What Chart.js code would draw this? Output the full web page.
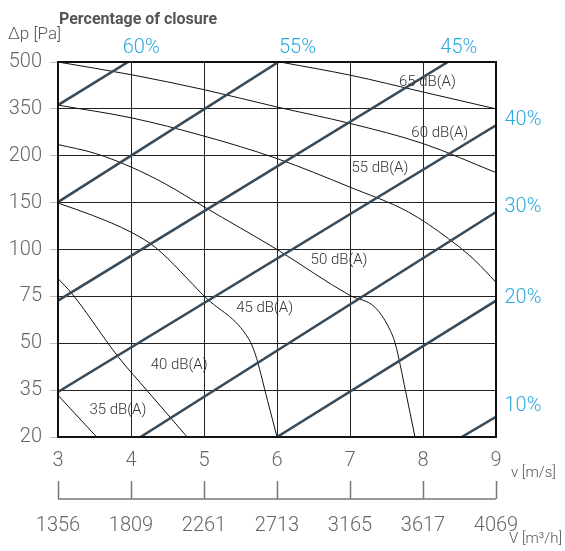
<!DOCTYPE html>
<html lang="en">
<head>
<meta charset="UTF-8" />
<title>Damper sound level chart</title>
<script src="https://cdn.jsdelivr.net/npm/chart.js"></script>
<style>
  body { margin: 0; background: #fff; }
  #wrap { width: 565px; height: 551px; }
</style>
</head>
<body>
<div id="wrap"><canvas id="chart" width="565" height="551"></canvas></div>
<script>
// axis ticks
const speedTicks = [3, 4, 5, 6, 7, 8, 9];
const volumeTicks = ['1356', '1809', '2261', '2713', '3165', '3617', '4069'];
const pressureTicks = ['20', '35', '50', '75', '100', '150', '200', '350', '500'];

// closure lines: [v m/s, position on the Δp axis (0 = 20 Pa ... 8 = 500 Pa)]
const closure60 = [[3, 7.08], [3.96, 8]];
const closure55 = [[3, 5.01], [6.02, 8]];
const closure45 = [[3, 2.91], [8.34, 8]];
const closure40 = [[3, 0.96], [9, 6.65]];
const closure30 = [[4.13, 0], [9, 4.80]];
const closure20 = [[6.0, 0], [9, 2.91]];
const closure10 = [[8.53, 0], [9, 0.43]];

// sound level curves
const db65 = [[6.04, 8], [7, 7.72], [8, 7.36], [9, 7.0]];
const db60 = [[3, 8], [4, 7.73], [5, 7.41], [6, 7.04], [7, 6.69], [8, 6.26], [9, 5.64]];
const db55 = [[3, 7.08], [4, 6.81], [5, 6.42], [6, 5.94], [7, 5.33], [7.8, 4.80], [8.35, 4.23], [8.71, 3.77], [9, 3.30]];
const db50 = [[3, 6.24], [3.51, 6.05], [4, 5.76], [4.47, 5.40], [5, 4.91], [6, 4.00], [7, 3.02], [7.34, 2.77], [7.53, 2.34], [7.62, 1.99], [7.76, 0.99], [7.89, 0]];
const db45 = [[3, 4.99], [3.47, 4.73], [4, 4.37], [4.33, 4.05], [5.02, 2.98], [5.61, 2.10], [5.70, 1.78], [5.87, 0.78], [6.0, 0]];
const db40 = [[3, 3.38], [3.19, 3.06], [3.83, 1.70], [4.22, 0.99], [4.77, 0]];
const db35 = [[3, 0.89], [3.53, 0]];

// labels
const dbLabels = ['65 dB(A)', '60 dB(A)', '55 dB(A)', '50 dB(A)', '45 dB(A)', '40 dB(A)', '35 dB(A)'];
const dbLabelV = [8.06, 8.23, 7.41, 6.85, 5.83, 4.66, 3.82];
const dbLabelP = [7.56, 6.49, 5.73, 3.77, 2.74, 1.53, 0.57];

const topPercent = ['60%', '55%', '45%'];
const topPercentV = [4.14, 6.28, 8.49];
const sidePercent = ['40%', '30%', '20%', '10%'];
const sidePercentP = [6.76, 4.90, 2.96, 0.67];

const FONT = "Roboto, 'Liberation Sans', Arial, sans-serif";
const BLUE = '#2aa9e0';
const SLATE = '#394b59';

const toPts = (arr) => arr.map(([x, y]) => ({ x, y }));

const closureSeries = [closure60, closure55, closure45, closure40, closure30, closure20, closure10];
const noiseSeries = [db65, db60, db55, db50, db45, db40, db35];

const datasets = [];
closureSeries.forEach((s) => {
  datasets.push({
    data: toPts(s),
    showLine: true,
    borderColor: SLATE,
    borderWidth: 2.6,
    pointRadius: 0,
    tension: 0,
  });
});
noiseSeries.forEach((s) => {
  datasets.push({
    data: toPts(s),
    showLine: true,
    borderColor: '#111',
    borderWidth: 1,
    pointRadius: 0,
    cubicInterpolationMode: 'monotone',
  });
});

const overlay = {
  id: 'overlay',
  afterDraw(chart) {
    const { ctx, chartArea: a } = chart;
    const x = chart.scales.x;
    const y = chart.scales.y;
    ctx.save();

    // frame
    ctx.strokeStyle = '#111';
    ctx.lineWidth = 2;
    ctx.strokeRect(a.left, a.top, a.right - a.left, a.bottom - a.top);

    // dB labels
    ctx.fillStyle = '#333';
    ctx.font = '300 15px ' + FONT;
    ctx.textAlign = 'center';
    ctx.textBaseline = 'middle';
    dbLabels.forEach((t, i) => {
      ctx.fillText(t, x.getPixelForValue(dbLabelV[i]), y.getPixelForValue(dbLabelP[i]));
    });

    // closure percentages
    ctx.fillStyle = BLUE;
    ctx.font = '300 20px ' + FONT;
    topPercent.forEach((t, i) => {
      ctx.fillText(t, x.getPixelForValue(topPercentV[i]), a.top - 14);
    });
    sidePercent.forEach((t, i) => {
      ctx.fillText(t, a.right + 27, y.getPixelForValue(sidePercentP[i]));
    });

    // headers
    ctx.fillStyle = '#555';
    ctx.textAlign = 'left';
    ctx.textBaseline = 'alphabetic';
    ctx.font = 'bold 16px ' + FONT;
    ctx.fillText('Percentage of closure', 59, 24);
    ctx.font = '300 17px ' + FONT;
    ctx.fillText('Δp [Pa]', 8, 39);

    // axis units
    ctx.textBaseline = 'middle';
    ctx.font = '300 15px ' + FONT;
    ctx.fillText('v [m/s]', 511, 473);
    ctx.fillText('V [m³/h]', 509, 539);

    // volume axis bracket
    ctx.strokeStyle = '#777';
    ctx.lineWidth = 1.5;
    ctx.beginPath();
    ctx.moveTo(x.getPixelForValue(3), 499);
    ctx.lineTo(x.getPixelForValue(9), 499);
    speedTicks.forEach((v) => {
      const px = Math.round(x.getPixelForValue(v)) + 0.5;
      ctx.moveTo(px, 481);
      ctx.lineTo(px, 499);
    });
    ctx.stroke();

    ctx.restore();
  },
};

const tickFont = { family: FONT, size: 20, weight: 300 };

new Chart(document.getElementById('chart'), {
  type: 'scatter',
  data: { datasets },
  options: {
    responsive: false,
    animation: false,
    layout: { padding: { top: 62, right: 69, left: 0, bottom: 0 } },
    plugins: { legend: { display: false }, tooltip: { enabled: false } },
    scales: {
      x: {
        type: 'linear',
        position: 'bottom',
        weight: 0,
        min: 3,
        max: 9,
        ticks: {
          stepSize: 1,
          autoSkip: false,
          maxRotation: 0,
          color: '#666',
          font: tickFont,
          padding: 12,
          callback: (v) => (speedTicks.includes(v) ? String(v) : ''),
        },
        grid: { color: '#222', lineWidth: 1, drawTicks: false },
        border: { display: false },
        afterFit: (s) => { s.height = 40; },
      },
      x2: {
        type: 'linear',
        position: 'bottom',
        weight: 1,
        min: 3,
        max: 9,
        ticks: {
          stepSize: 1,
          autoSkip: false,
          maxRotation: 0,
          color: '#666',
          font: tickFont,
          padding: 29,
          callback: (v) => volumeTicks[speedTicks.indexOf(v)] ?? '',
        },
        grid: { display: false },
        border: { display: false },
        afterFit: (s) => { s.height = 74; },
      },
      y: {
        type: 'linear',
        min: 0,
        max: 8,
        ticks: {
          stepSize: 1,
          autoSkip: false,
          color: '#666',
          font: tickFont,
          padding: 8,
          callback: (v) => pressureTicks[v] ?? '',
        },
        grid: { color: '#222', lineWidth: 1, tickColor: '#bbb', tickLength: 8 },
        border: { display: false },
        afterFit: (s) => { s.width = 58; },
      },
    },
  },
  plugins: [overlay],
});
</script>
</body>
</html>
